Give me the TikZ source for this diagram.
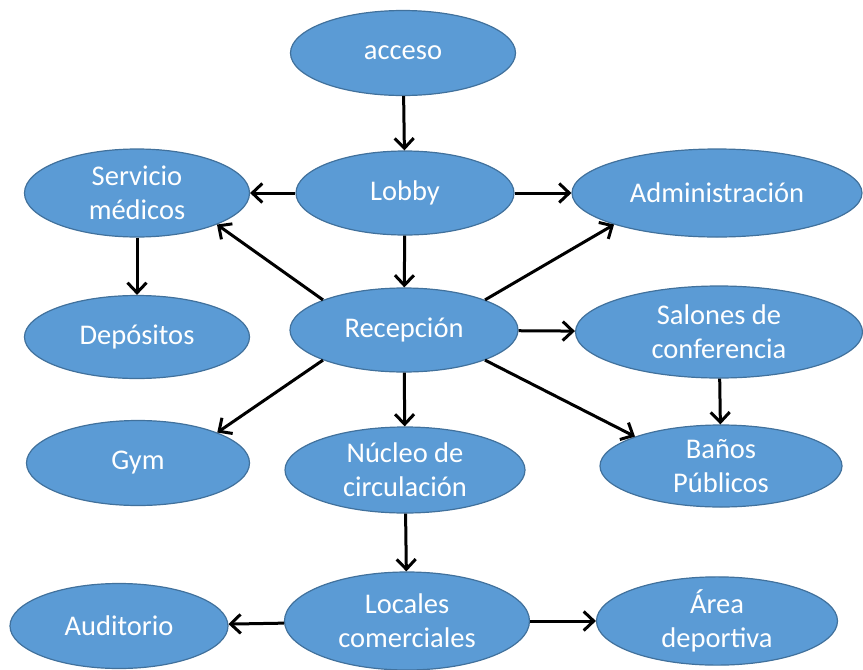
\documentclass[tikz,border=0pt]{standalone}
\usepackage{fontspec}
\setmainfont{Carlito}
\usetikzlibrary{arrows.meta, shapes.geometric}

\definecolor{zona}{HTML}{5B9BD5}
\definecolor{borde}{HTML}{41719C}

\begin{document}
\begin{tikzpicture}[
    	x=1pt, y=-1pt,
    	zona/.style={ellipse, fill=zona, draw=borde, line width=1.2pt, inner sep=0pt,
    	  text=white, align=center, font=\fontsize{28.5}{34}\selectfont},
    	arrow/.style={-{Straight Barb[length=10pt, width=19pt, line width=3pt]}, line width=3pt},
    ]
        \useasboundingbox (0, 0) rectangle (863, 670);

        \node[zona, minimum width=225, minimum height=85] (acceso) at (403, 53) {acceso};
        \node[zona, minimum width=218, minimum height=84] (lobby) at (405, 193) {Lobby};
        \node[zona, minimum width=225, minimum height=88] (servicio) at (137, 193) {Servicio\\médicos};
        \node[zona, minimum width=290, minimum height=88] (admin) at (717, 193) {Administración};

        \node[zona, minimum width=225, minimum height=83] (depositos) at (137, 337) {Depósitos};
        \node[zona, minimum width=228, minimum height=84] (recepcion) at (404, 330) {Recepción};
        \node[zona, minimum width=287, minimum height=92] (salones) at (719, 332) {Salones de\\conferencia};

        \node[zona, minimum width=223, minimum height=85] (gym) at (138, 463) {Gym};
        \node[zona, minimum width=240, minimum height=86] (nucleo) at (405, 470) {Núcleo de\\circulación};
        \node[zona, minimum width=242, minimum height=82] (banos) at (721, 466) {Baños\\Públicos};

        \node[zona, minimum width=218, minimum height=85] (auditorio) at (119, 626) {Auditorio};
        \node[zona, minimum width=245, minimum height=98] (locales) at (407, 621) {Locales\\comerciales};
        \node[zona, minimum width=241, minimum height=78] (area) at (717, 621) {Área\\deportiva};

        \draw[arrow] (acceso) -- (lobby);
        \draw[arrow] (lobby) -- (servicio);
        \draw[arrow] (lobby) -- (admin);
        \draw[arrow] (lobby) -- (recepcion);
        \draw[arrow] (servicio) -- (depositos);

        \draw[arrow] (recepcion.north west) -- (servicio.south east);
        \draw[arrow] (recepcion.north east) -- (admin.south west);
        \draw[arrow] (recepcion) -- (salones);
        \draw[arrow] (recepcion.south west) -- (gym.north east);
        \draw[arrow] (recepcion) -- (nucleo);
        \draw[arrow] (recepcion.south east) -- (banos.north west);
        \draw[arrow] (salones) -- (banos);

        \draw[arrow] (nucleo) -- (locales);
        \draw[arrow] (locales) -- (auditorio);
        \draw[arrow] (locales) -- (area);
    \end{tikzpicture}
\end{document}
